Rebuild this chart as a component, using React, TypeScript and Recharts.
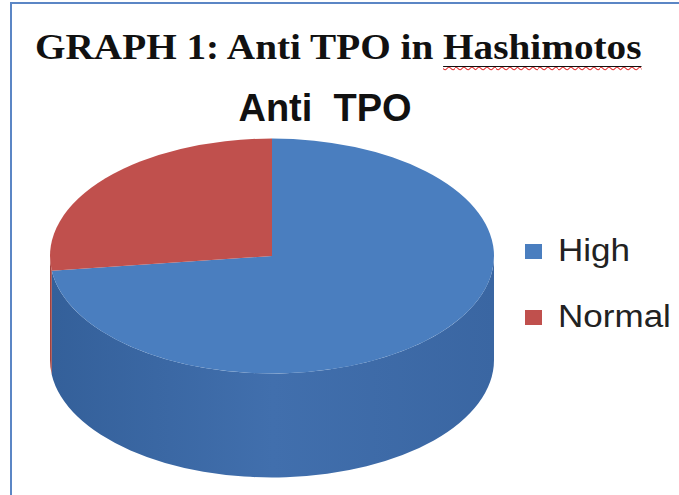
import { PieChart, Pie, Cell, Legend } from "recharts";

const categories = ["High", "Normal"];
const values = [73, 27];
const topColors = ["#4a7ebf", "#c0504d"];
const sideColors = ["url(#sideBlue)", "#a3423f"];

const data = categories.map((name, i) => ({ name, value: values[i] }));

const TILT = 0.529;
const DEPTH = 104;
const RAD = Math.PI / 180;

const pt = (cx: number, cy: number, rx: number, ry: number, a: number) => [
  cx + rx * Math.cos(-a * RAD),
  cy + ry * Math.sin(-a * RAD),
];

// top face of the slice, squashed into an ellipse
function TopSlice(props: any) {
  const { cx, cy, outerRadius, startAngle, endAngle, fill } = props;
  const rx = outerRadius;
  const ry = outerRadius * TILT;
  const [x1, y1] = pt(cx, cy, rx, ry, startAngle);
  const [x2, y2] = pt(cx, cy, rx, ry, endAngle);
  const large = Math.abs(endAngle - startAngle) > 180 ? 1 : 0;
  const sweep = startAngle > endAngle ? 1 : 0;
  return (
    <path
      d={`M${cx},${cy}L${x1},${y1}A${rx},${ry} 0 ${large} ${sweep} ${x2},${y2}Z`}
      fill={fill}
    />
  );
}

// visible (front) wall of the slice
function SideSlice(props: any) {
  const { cx, cy, outerRadius, startAngle, endAngle, fill } = props;
  const rx = outerRadius;
  const ry = outerRadius * TILT;
  const a1 = Math.min(startAngle, 0);
  const a2 = Math.max(endAngle, -180);
  if (a1 <= a2) return <g />;
  const [x1, y1] = pt(cx, cy, rx, ry, a1);
  const [x2, y2] = pt(cx, cy, rx, ry, a2);
  return (
    <path
      d={`M${x1},${y1}A${rx},${ry} 0 0 1 ${x2},${y2}L${x2},${y2 + DEPTH}A${rx},${ry} 0 0 0 ${x1},${y1 + DEPTH}Z`}
      fill={fill}
    />
  );
}

const renderLegend = (props: any) => (
  <div>
    {props.payload
      .filter((entry: any) => entry.type !== "none" && categories.includes(entry.value))
      .filter((entry: any, i: number, arr: any[]) => arr.findIndex((e) => e.value === entry.value) === i)
      .map((entry: any) => (
        <div
          key={entry.value}
          style={{ display: "flex", alignItems: "center", height: 66 }}
        >
          <span
            style={{
              display: "inline-block",
              width: 17,
              height: 15,
              background: topColors[categories.indexOf(entry.value)],
              marginRight: 16,
            }}
          />
          <span
            style={{
              display: "inline-block",
              fontSize: 31,
              color: "#222",
              transform: "scaleX(1.13)",
              transformOrigin: "left center",
            }}
          >
            {entry.value}
          </span>
        </div>
      ))}
  </div>
);

export default function App() {
  return (
    <div
      style={{
        position: "absolute",
        left: 0,
        top: 0,
        width: 679,
        height: 495,
        overflow: "hidden",
        background: "#fff",
        fontFamily: "'Liberation Sans', Arial, sans-serif",
      }}
    >
      <div
        style={{
          position: "absolute",
          left: 35,
          top: 29,
          fontFamily: "'Liberation Serif', 'Times New Roman', serif",
          fontWeight: "bold",
          fontSize: 36,
          lineHeight: 1,
          color: "#111",
          whiteSpace: "pre",
          transform: "scaleX(1.09)",
          transformOrigin: "left center",
        }}
      >
        GRAPH 1: Anti TPO in{" "}
        <span
          style={{
            textDecoration: "underline wavy #e03030",
            textDecorationThickness: 1,
            textUnderlineOffset: 7,
          }}
        >
          <span style={{ textDecoration: "underline", textDecorationThickness: 1 }}>
            Hashimotos
          </span>
        </span>
      </div>
      <div
        style={{
          position: "absolute",
          left: 225,
          width: 200,
          top: 89,
          textAlign: "center",
          fontWeight: "bold",
          fontSize: 38,
          lineHeight: 1,
          color: "#111",
          whiteSpace: "pre",
        }}
      >
        Anti  TPO
      </div>
      <div style={{ position: "absolute", left: 0, top: 0 }}>
        <PieChart width={679} height={495}>
          <defs>
            <linearGradient id="sideBlue" x1="0" y1="0" x2="1" y2="0">
              <stop offset="0%" stopColor="#34609a" />
              <stop offset="50%" stopColor="#416fad" />
              <stop offset="100%" stopColor="#3a66a2" />
            </linearGradient>
          </defs>
          <Pie
            data={data}
            dataKey="value"
            nameKey="name"
            cx={267}
            cy={251}
            outerRadius={222}
            startAngle={90}
            endAngle={-270}
            stroke="none"
            legendType="none"
            shape={SideSlice}
            isAnimationActive={false}
          >
            {data.map((_d, i) => (
              <Cell key={i} fill={sideColors[i]} />
            ))}
          </Pie>
          <Pie
            data={data}
            dataKey="value"
            nameKey="name"
            cx={267}
            cy={251}
            outerRadius={222}
            startAngle={90}
            endAngle={-270}
            stroke="none"
            shape={TopSlice}
            isAnimationActive={false}
          >
            {data.map((_d, i) => (
              <Cell key={i} fill={topColors[i]} />
            ))}
          </Pie>
          <Legend
            layout="vertical"
            content={renderLegend}
            wrapperStyle={{ position: "absolute", left: 525, top: 218, width: 160 }}
          />
        </PieChart>
      </div>
      <div
        style={{
          position: "absolute",
          left: 10,
          top: 2,
          width: 672,
          height: 520,
          border: "2px solid #5b86c5",
          pointerEvents: "none",
        }}
      />
    </div>
  );
}
